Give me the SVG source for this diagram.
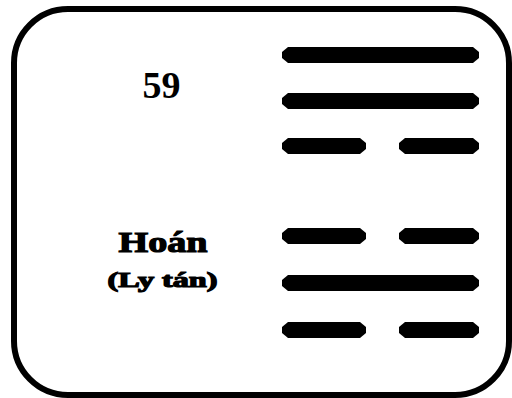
<svg xmlns="http://www.w3.org/2000/svg" width="512" height="398" viewBox="0 0 512 398">
<style>
.bar{fill:#000}
.t{font-family:"Liberation Serif","Times New Roman",serif;font-weight:bold;fill:#000;text-anchor:middle}
.h{stroke:#000;stroke-width:1.2}
</style>
<rect x="0" y="0" width="512" height="398" fill="#fff"/>
<g id="frame">
<rect x="14" y="9" width="495" height="386" rx="54" ry="54" fill="none" stroke="#000" stroke-width="6"/>
</g>
<g id="labels">
<text class="t" x="161.5" y="98" font-size="38">59</text>
<text class="t h" x="163" y="252" font-size="30" textLength="89" lengthAdjust="spacingAndGlyphs">Hoán</text>
<text class="t h" x="162.5" y="287" font-size="21" stroke-width="0.8" textLength="110" lengthAdjust="spacingAndGlyphs">(Ly tán)</text>
</g>
<g id="hexagram">
<path class="bar" d="M288,47 H473 L479,52 V58 L473,63 H288 L282,58 V52 Z"/>
<path class="bar" d="M288,93 H473 L479,98 V104 L473,109 H288 L282,104 V98 Z"/>
<path class="bar" d="M288,138 H360 L366,143 V149 L360,154 H288 L282,149 V143 Z"/>
<path class="bar" d="M405,138 H473 L479,143 V149 L473,154 H405 L399,149 V143 Z"/>
<path class="bar" d="M288,228 H360 L366,233 V239 L360,244 H288 L282,239 V233 Z"/>
<path class="bar" d="M405,228 H473 L479,233 V239 L473,244 H405 L399,239 V233 Z"/>
<path class="bar" d="M288,275 H473 L479,280 V286 L473,291 H288 L282,286 V280 Z"/>
<path class="bar" d="M288,322 H360 L366,327 V333 L360,338 H288 L282,333 V327 Z"/>
<path class="bar" d="M405,322 H473 L479,327 V333 L473,338 H405 L399,333 V327 Z"/>
</g>
</svg>
